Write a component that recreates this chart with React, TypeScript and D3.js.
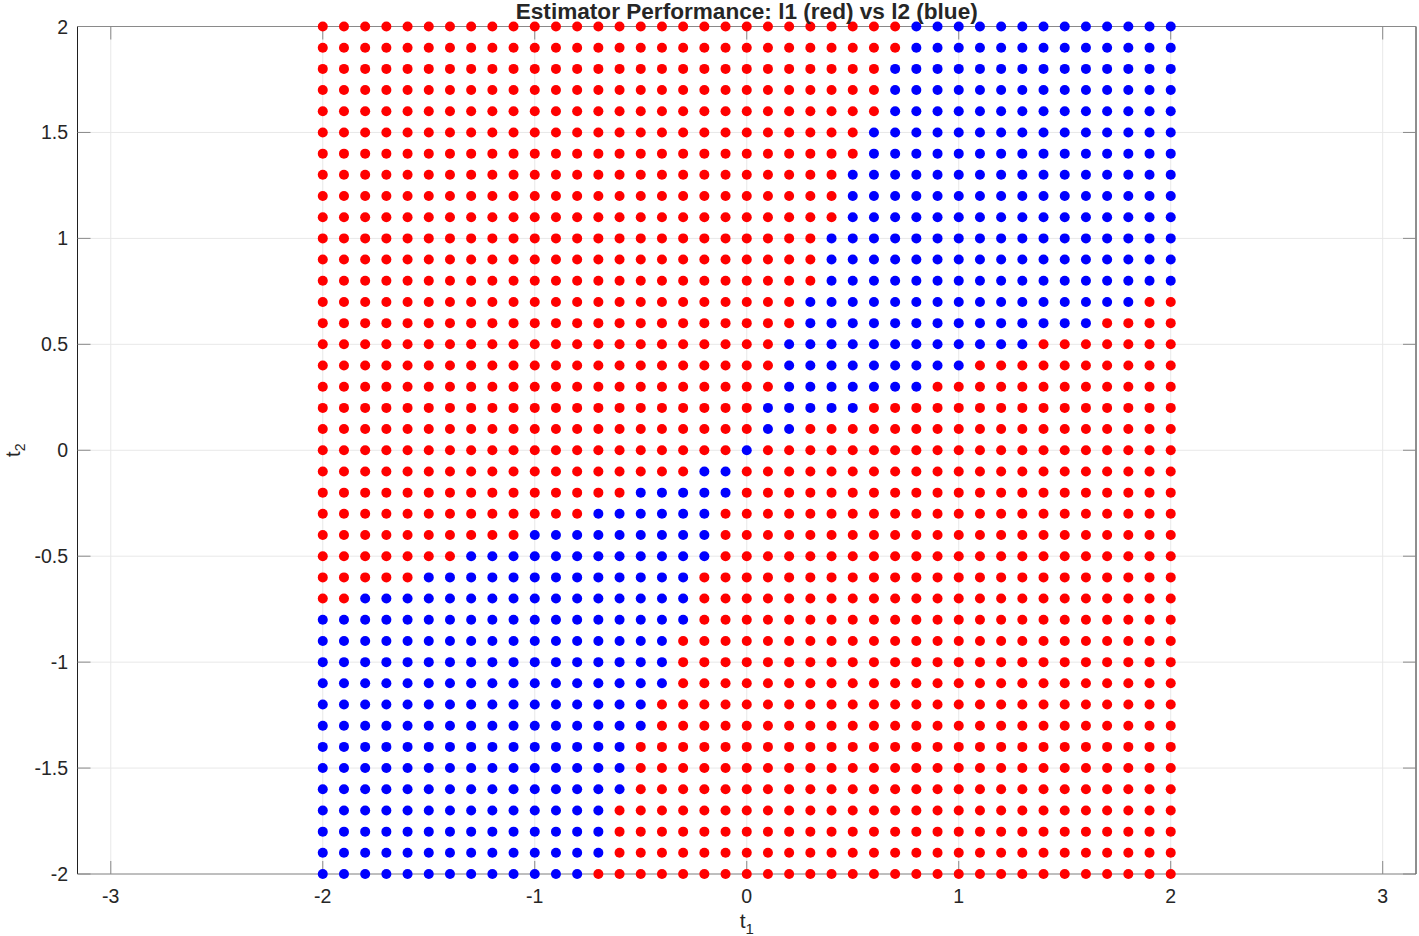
import { useEffect, useRef } from 'react'
import * as d3 from 'd3'

// grid of t1 values used on every row
const T1_VALUES = [
  -2, -1.9, -1.8, -1.7, -1.6, -1.5, -1.4, -1.3, -1.2, -1.1, -1, -0.9, -0.8, -0.7, -0.6, -0.5, -0.4, -0.3, -0.2, -0.1,
  0, 0.1, 0.2, 0.3, 0.4, 0.5, 0.6, 0.7, 0.8, 0.9, 1, 1.1, 1.2, 1.3, 1.4, 1.5, 1.6, 1.7, 1.8, 1.9, 2
]

// one row per t2 value, top to bottom
const ROW_T2 = [
  2, 1.9, 1.8, 1.7, 1.6, 1.5, 1.4, 1.3, 1.2, 1.1, 1, 0.9, 0.8, 0.7, 0.6, 0.5, 0.4, 0.3, 0.2, 0.1,
  0, -0.1, -0.2, -0.3, -0.4, -0.5, -0.6, -0.7, -0.8, -0.9, -1, -1.1, -1.2, -1.3, -1.4, -1.5, -1.6, -1.7, -1.8, -1.9, -2
]

// on each row, l2 (blue) wins for t1 between these two values, l1 (red) elsewhere
const BLUE_FROM = [
  0.8, 0.8, 0.7, 0.7, 0.7, 0.6, 0.6, 0.5, 0.5, 0.5, 0.4, 0.4, 0.4, 0.3, 0.3, 0.2, 0.2, 0.2, 0.1, 0.1,
  0, -0.2, -0.5, -0.7, -1, -1.3, -1.5, -1.8, -2, -2, -2, -2, -2, -2, -2, -2, -2, -2, -2, -2, -2
]
const BLUE_TO = [
  2, 2, 2, 2, 2, 2, 2, 2, 2, 2, 2, 2, 2, 1.8, 1.6, 1.3, 1.0, 0.8, 0.5, 0.2,
  0, -0.1, -0.1, -0.2, -0.2, -0.2, -0.3, -0.3, -0.3, -0.4, -0.4, -0.4, -0.5, -0.5, -0.6, -0.6, -0.6, -0.7, -0.7, -0.7, -0.8
]

const X_TICKS = [-3, -2, -1, 0, 1, 2, 3]
const Y_TICKS = [-2, -1.5, -1, -0.5, 0, 0.5, 1, 1.5, 2]
const X_LIMITS: [number, number] = [-3.157, 3.157]
const Y_LIMITS: [number, number] = [-2, 2]

const TITLE = 'Estimator Performance: l1 (red) vs l2 (blue)'

interface Point {
  t1: number
  t2: number
  blue: boolean
}

function buildPoints(): Point[] {
  const pts: Point[] = []
  ROW_T2.forEach((t2, r) => {
    for (const t1 of T1_VALUES) {
      const blue = t1 >= BLUE_FROM[r] - 1e-6 && t1 <= BLUE_TO[r] + 1e-6
      pts.push({ t1, t2, blue })
    }
  })
  return pts
}

const FONT = '"Liberation Sans", Arial, Helvetica, sans-serif'
const TEXT = '#262626'

export default function App() {
  const ref = useRef<SVGSVGElement>(null)

  useEffect(() => {
    if (!ref.current) return
    const svg = d3.select(ref.current)
    svg.selectAll('*').remove()

    const left = 77.5
    const right = 1416
    const top = 26.5
    const bottom = 874
    const tick = 13

    const x = d3.scaleLinear().domain(X_LIMITS).range([left, right])
    const y = d3.scaleLinear().domain(Y_LIMITS).range([bottom, top])

    // grid
    const grid = svg.append('g').attr('stroke', '#e8e8e8').attr('stroke-width', 1)
    X_TICKS.forEach(t => {
      grid.append('line').attr('x1', x(t)).attr('x2', x(t)).attr('y1', top).attr('y2', bottom)
    })
    Y_TICKS.forEach(t => {
      grid.append('line').attr('x1', left).attr('x2', right).attr('y1', y(t)).attr('y2', y(t))
    })

    // box + ticks
    const axes = svg.append('g').attr('fill', 'none')
    axes.append('line').attr('x1', left).attr('x2', right).attr('y1', bottom).attr('y2', bottom).attr('stroke', '#8a8a8a')
    axes.append('line').attr('x1', left).attr('x2', right).attr('y1', top).attr('y2', top).attr('stroke', '#8a8a8a')
    axes.append('line').attr('x1', left).attr('x2', left).attr('y1', top).attr('y2', bottom).attr('stroke', '#1f1f1f')
    axes.append('line').attr('x1', right).attr('x2', right).attr('y1', top).attr('y2', bottom).attr('stroke', '#1f1f1f')

    X_TICKS.forEach(t => {
      axes.append('line').attr('x1', x(t)).attr('x2', x(t)).attr('y1', bottom).attr('y2', bottom - tick).attr('stroke', '#8a8a8a')
      axes.append('line').attr('x1', x(t)).attr('x2', x(t)).attr('y1', top).attr('y2', top + tick).attr('stroke', '#8a8a8a')
    })
    Y_TICKS.forEach(t => {
      axes.append('line').attr('x1', left).attr('x2', left + tick).attr('y1', y(t)).attr('y2', y(t)).attr('stroke', '#8a8a8a')
      axes.append('line').attr('x1', right).attr('x2', right - tick).attr('y1', y(t)).attr('y2', y(t)).attr('stroke', '#8a8a8a')
    })

    // tick labels
    const labels = svg.append('g').attr('font-family', FONT).attr('font-size', 19.5).attr('fill', TEXT)
    X_TICKS.forEach(t => {
      labels.append('text')
        .attr('x', x(t))
        .attr('y', 903)
        .attr('text-anchor', 'middle')
        .text(String(t))
    })
    Y_TICKS.forEach(t => {
      labels.append('text')
        .attr('x', 68)
        .attr('y', y(t) + 7)
        .attr('text-anchor', 'end')
        .text(String(t))
    })

    // points
    const data = buildPoints()
    svg.append('g')
      .selectAll('circle')
      .data(data)
      .join('circle')
      .attr('cx', d => x(d.t1))
      .attr('cy', d => y(d.t2))
      .attr('r', 5)
      .attr('fill', d => (d.blue ? '#0000ff' : '#ff0000'))

    // axis labels
    const xl = svg.append('text')
      .attr('x', x(0))
      .attr('y', 928)
      .attr('text-anchor', 'middle')
      .attr('font-family', FONT)
      .attr('font-size', 21)
      .attr('fill', TEXT)
    xl.append('tspan').text('t')
    xl.append('tspan').attr('dy', 6).attr('font-size', 15).text('1')

    const yl = svg.append('text')
      .attr('transform', `translate(20,${y(0)}) rotate(-90)`)
      .attr('text-anchor', 'middle')
      .attr('font-family', FONT)
      .attr('font-size', 20)
      .attr('fill', TEXT)
    yl.append('tspan').text('t')
    yl.append('tspan').attr('dy', 5).attr('font-size', 14).text('2')

    // title
    svg.append('text')
      .attr('x', x(0))
      .attr('y', 19)
      .attr('text-anchor', 'middle')
      .attr('font-family', FONT)
      .attr('font-size', 22.6)
      .attr('font-weight', 'bold')
      .attr('fill', TEXT)
      .text(TITLE)
  }, [])

  return (
    <svg
      ref={ref}
      width={1419}
      height={936}
      style={{ position: 'absolute', left: 0, top: 0, background: '#ffffff' }}
    />
  )
}
